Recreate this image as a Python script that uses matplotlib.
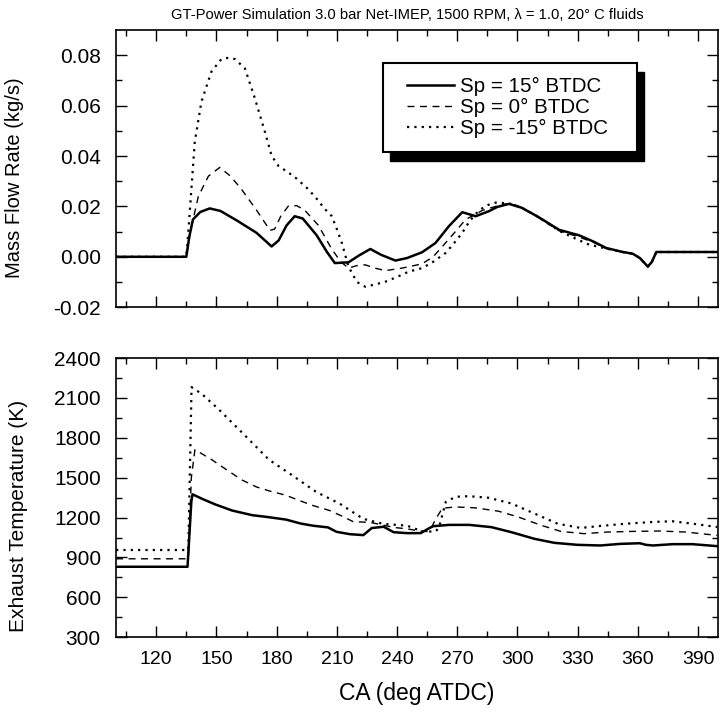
import numpy as np
import matplotlib
matplotlib.use("Agg")
from matplotlib import pyplot as plt
from matplotlib.patches import Rectangle

plt.rcParams['font.family'] = ['Liberation Sans', 'DejaVu Sans']

# --- mass flow rate (kg/s) ---
ca_m15 = [100, 135, 136.5, 138.3, 142, 146.7, 152, 160, 170, 177.5, 181, 185, 189, 193, 200, 205,
          209, 215.8, 221, 226.7, 232, 239.2, 245, 252.5, 259.2, 265.8, 272.5, 279.2, 285.8, 290,
          295.8, 302, 310, 320.8, 330.8, 338, 344.2, 352, 357.5, 361, 365, 367, 369.2, 400]
mf_15 = [0, 0, 0.008, 0.0148, 0.0178, 0.0192, 0.0182, 0.0145, 0.0095, 0.0041, 0.0065, 0.0125,
         0.0161, 0.0152, 0.0085, 0.002, -0.0025, -0.0022, 0.0005, 0.0031, 0.0008, -0.0015,
         -0.0005, 0.0018, 0.0055, 0.0121, 0.0177, 0.0161, 0.0181, 0.0198, 0.0210, 0.0195,
         0.0160, 0.0107, 0.0085, 0.006, 0.0035, 0.002, 0.0012, -0.0005, -0.0039, -0.002,
         0.0019, 0.0019]

ca_m0 = [100, 135, 137, 141, 146, 151.7, 157, 162.5, 170, 176.7, 179, 182, 185.8, 190, 194,
         200.8, 207.5, 212, 215.8, 220, 224.2, 229, 234.2, 242.5, 252.5, 258, 262.5, 268, 274.2,
         282.5, 292.5, 297, 302, 310, 320.8, 330.8, 338, 344.2, 352, 357.5, 361, 365, 367,
         369.2, 400]
mf_0 = [0, 0, 0.010, 0.024, 0.032, 0.0355, 0.032, 0.0268, 0.0185, 0.0105, 0.011, 0.016, 0.0201,
        0.0203, 0.0185, 0.0125, 0.003, -0.002, -0.0045, -0.0035, -0.0032, -0.0045, -0.0055,
        -0.0045, -0.0028, 0.0, 0.004, 0.009, 0.0148, 0.0184, 0.0208, 0.0212, 0.0195, 0.0158,
        0.0103, 0.0078, 0.0057, 0.0033, 0.0019, 0.0012, -0.0005, -0.0039, -0.002, 0.0019,
        0.0019]

ca_mm15 = [100, 135, 136.2, 139.2, 142.5, 147.5, 152.5, 156, 159.2, 164.2, 169.2, 174.2, 177.5,
           181, 185.8, 190, 195.8, 200, 204, 207.5, 210, 212.5, 215.8, 220, 224.2, 229, 234.2,
           240, 245.8, 252.5, 258, 264.2, 268, 272.5, 276, 280.8, 285, 289.2, 295.8, 302, 310,
           320.8, 330, 335.8, 344.2, 352, 357.5, 361, 365, 367, 369.2, 400]
mf_m15 = [0, 0, 0.0121, 0.0455, 0.0615, 0.0735, 0.0785, 0.079, 0.0785, 0.0748, 0.0628, 0.0495,
          0.0401, 0.036, 0.0335, 0.031, 0.0268, 0.023, 0.019, 0.0161, 0.011, 0.0055, -0.0039,
          -0.010, -0.0119, -0.011, -0.0099, -0.008, -0.0059, -0.0045, -0.002, 0.0015, 0.005,
          0.0095, 0.014, 0.0184, 0.0205, 0.0215, 0.0212, 0.0196, 0.016, 0.0103, 0.0068, 0.0048,
          0.0033, 0.0019, 0.0012, -0.0005, -0.0039, -0.002, 0.0019, 0.0019]

# --- exhaust temperature (K) ---
ca_t15 = [100, 135.6, 137.5, 138.1, 143, 149.4, 157.8, 167.8, 175, 184.6, 192, 198, 205.6, 209.8,
          216.5, 223.2, 227.4, 233.3, 238.3, 245, 251.8, 256, 258, 266, 276, 287, 297, 308.5,
          318.4, 329.8, 341.3, 351.1, 361, 364, 367.5, 377.4, 387.2, 399.5]
t_15 = [830, 830, 1320, 1375, 1340, 1299, 1253, 1218, 1205, 1185, 1155, 1139, 1126, 1093, 1075,
        1068, 1121, 1131, 1090, 1083, 1083, 1120, 1135, 1145, 1145, 1128, 1090, 1040, 1010, 995,
        990, 1002, 1007, 995, 990, 1000, 1000, 985]

ca_t0 = [100, 136, 137.5, 139.3, 147.7, 155, 162.8, 170, 176.2, 184.6, 191, 198, 206.4, 212,
         218.2, 226.6, 238.3, 245, 251, 255, 257, 259.3, 262.6, 269.2, 279, 290.5, 300.3, 311.8,
         321.6, 333.1, 344.6, 357.7, 370.8, 384, 399.5]
t_0 = [890, 890, 1500, 1711, 1635, 1560, 1482, 1430, 1401, 1368, 1330, 1291, 1253, 1215, 1169,
       1164, 1126, 1115, 1100, 1095, 1120, 1190, 1270, 1280, 1273, 1248, 1205, 1142, 1096, 1079,
       1091, 1096, 1099, 1091, 1066]

ca_tm15 = [100, 136, 137.6, 142.7, 151, 164.5, 176.2, 186.3, 199.7, 211.5, 223.2, 233.3, 245,
           252.8, 259.3, 261, 264.3, 269.2, 275.7, 285.6, 297, 308.5, 320, 331.5, 341.3, 354.4,
           367.5, 377.4, 387.2, 399.5]
t_m15 = [956, 956, 2181, 2130, 2016, 1813, 1635, 1533, 1393, 1304, 1190, 1152, 1139, 1095, 1095,
         1130, 1318, 1356, 1361, 1349, 1306, 1230, 1154, 1122, 1137, 1154, 1167, 1172, 1154, 1129]

labels = ['Sp = 15° BTDC', 'Sp = 0° BTDC', 'Sp = -15° BTDC']
styles = [dict(ls='-', lw=1.8), dict(ls=(0, (5, 4)), lw=1.0), dict(ls=(0, (1, 2.3)), lw=1.6)]

fig = plt.figure(figsize=(7.21, 7.16), dpi=100)
ax1 = fig.add_axes([0.161, 0.571, 0.835, 0.387])
ax2 = fig.add_axes([0.161, 0.110, 0.835, 0.390])

for ca, v, st, lab in zip([ca_m15, ca_m0, ca_mm15], [mf_15, mf_0, mf_m15], styles, labels):
    ax1.plot(ca, v, color='black', label=lab, **st)
for ca, v, st in zip([ca_t15, ca_t0, ca_tm15], [t_15, t_0, t_m15], styles):
    ax2.plot(ca, v, color='black', **st)

for ax in (ax1, ax2):
    ax.set_xlim(100, 400)
    ax.set_xticks(np.arange(120, 400, 30))
    ax.set_xticks(np.arange(105, 400, 30), minor=True)
    ax.tick_params(which='both', direction='in', top=True, right=True)
    ax.tick_params(which='major', length=8, width=1)
    ax.tick_params(which='minor', length=4, width=1)
    ax.tick_params(axis='y', pad=11, labelsize=15)
    ax.tick_params(axis='x', pad=10, labelsize=14)
    for sp in ax.spines.values():
        sp.set_linewidth(1.2)

ax1.set_ylim(-0.02, 0.09)
ax1.set_yticks([-0.02, 0.0, 0.02, 0.04, 0.06, 0.08])
ax1.set_yticks(np.arange(-0.01, 0.09, 0.02), minor=True)
ax1.set_yticklabels(['-0.02', '0.00', '0.02', '0.04', '0.06', '0.08'])
ax1.tick_params(axis='x', labelbottom=False)
ax1.set_ylabel('Mass Flow Rate (kg/s)', fontsize=14.5)
ax1.yaxis.set_label_coords(-0.153, 0.466)
fig.text(0.565, 0.979, 'GT-Power Simulation 3.0 bar Net-IMEP, 1500 RPM, λ = 1.0, 20° C fluids',
         fontsize=10.6, ha='center', va='center')

ax2.set_ylim(300, 2400)
ax2.set_yticks(np.arange(300, 2401, 300))
ax2.set_yticks(np.arange(450, 2400, 300), minor=True)
ax2.set_ylabel('Exhaust Temperature (K)', fontsize=15)
ax2.yaxis.set_label_coords(-0.146, 0.434)
ax2.set_xlabel('CA (deg ATDC)', fontsize=16.5, labelpad=10)

# legend with solid black drop shadow
ax1.add_patch(Rectangle((0.455, 0.527), 0.422, 0.321, transform=ax1.transAxes,
                        facecolor='black', edgecolor='black', zorder=4))
ax1.add_patch(Rectangle((0.443, 0.560), 0.422, 0.321, transform=ax1.transAxes,
                        facecolor='white', edgecolor='black', lw=1.5, zorder=5))
leg = ax1.legend(loc='center', bbox_to_anchor=(0.650, 0.720), frameon=False, fontsize=14.8,
                 handlelength=2.3, handletextpad=0.3, labelspacing=0.1, borderpad=0)
leg.set_zorder(6)

fig.savefig('out.png', dpi=100)
